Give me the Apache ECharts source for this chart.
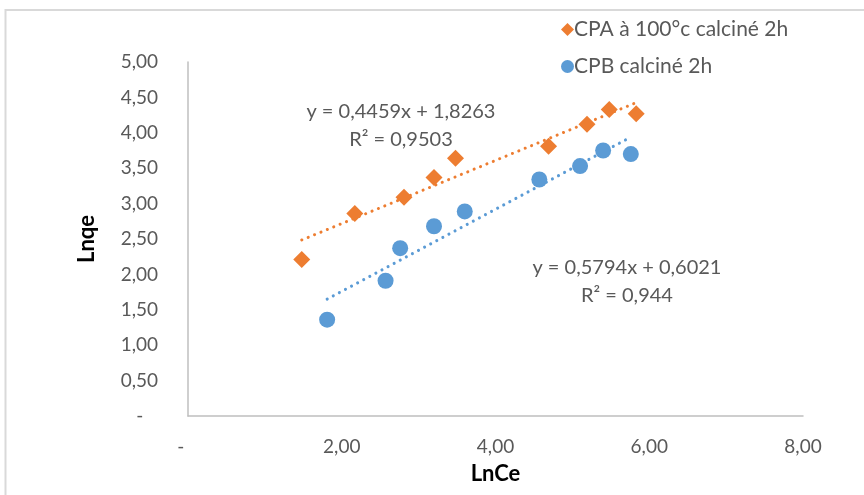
<!DOCTYPE html>
<html>
<head>
<meta charset="utf-8">
<script src="https://cdn.jsdelivr.net/npm/echarts@6/dist/echarts.min.js"></script>
<style>html,body{margin:0;padding:0;background:#fff}#c{width:864px;height:495px}</style>
</head>
<body>
<div id="c"></div>
<script>
// Data
var cpaX = [1.48, 2.17, 2.81, 3.20, 3.48, 4.69, 5.19, 5.48, 5.83];
var cpaY = [2.21, 2.86, 3.09, 3.37, 3.64, 3.81, 4.12, 4.33, 4.27];
var cpbX = [1.81, 2.57, 2.76, 3.20, 3.60, 4.57, 5.10, 5.40, 5.76];
var cpbY = [1.36, 1.91, 2.37, 2.68, 2.89, 3.34, 3.53, 3.75, 3.70];
var cpaTrend = [0.4459, 1.8263]; // slope, intercept
var cpbTrend = [0.5794, 0.6021];
var seriesNames = ['CPA à 100°c calciné 2h', 'CPB calciné 2h'];
var cpaEq = ['y = 0,4459x + 1,8263', 'R² = 0,9503'];
var cpbEq = ['y = 0,5794x + 0,6021', 'R² = 0,944'];
var xTitle = 'LnCe', yTitle = 'Lnqe';

function pts(xs, ys) { return xs.map(function (x, i) { return [x, ys[i]]; }); }
function trend(xs, c) {
  var a = Math.min.apply(null, xs), b = Math.max.apply(null, xs);
  return [[a, c[0] * a + c[1]], [b, c[0] * b + c[1]]];
}
function fmt(v) { return v === 0 ? '-   ' : v.toFixed(2).replace('.', ','); }

var ORANGE = '#ED7D31', BLUE = '#5B9BD5', TXT = '#595959';
var FONT = 'Lato';
var chart = echarts.init(document.getElementById('c'), null, {renderer: 'canvas'});
var dotted = {width: 3, type: [0.1, 6.8], cap: 'round'};

chart.setOption({
  animation: false,
  textStyle: {fontFamily: FONT},
  grid: {left: 188, right: 61, top: 62, bottom: 79, containLabel: false},
  legend: {
    data: [{name: seriesNames[0], icon: 'diamond'}, {name: seriesNames[1], icon: 'circle'}],
    orient: 'vertical', left: 556, top: 14, itemGap: 16, itemWidth: 13, itemHeight: 13,
    textStyle: {fontFamily: FONT, fontSize: 21, color: TXT, padding: [0, 0, 0, -5]}
  },
  xAxis: {
    type: 'value', min: 0, max: 8, interval: 2,
    name: xTitle, nameLocation: 'middle', nameGap: 47,
    nameTextStyle: {fontFamily: FONT, fontWeight: 'bold', fontSize: 22, color: '#000'},
    axisLine: {show: true, onZero: false, lineStyle: {color: '#BFBFBF', width: 1.5}},
    axisTick: {show: false}, splitLine: {show: false},
    axisLabel: {formatter: fmt, fontFamily: FONT, fontSize: 19, color: TXT, margin: 21}
  },
  yAxis: {
    type: 'value', min: 0, max: 5, interval: 0.5,
    name: yTitle, nameLocation: 'middle', nameGap: 90, nameRotate: 90,
    nameTextStyle: {fontFamily: FONT, fontWeight: 'bold', fontSize: 22, color: '#000'},
    axisLine: {show: true, onZero: false, lineStyle: {color: '#BFBFBF', width: 1.5}},
    axisTick: {show: false}, splitLine: {show: false},
    axisLabel: {formatter: fmt, fontFamily: FONT, fontSize: 19, color: TXT, margin: 30}
  },
  graphic: [
    {type: 'polyline', silent: true, shape: {points: [[5.5, 495], [5.5, 10], [864, 10]]},
     style: {stroke: '#D9D9D9', lineWidth: 2, fill: null}}
  ],
  series: [
    {name: seriesNames[0] + ' trend', type: 'line', data: trend(cpaX, cpaTrend), symbol: 'none',
     lineStyle: Object.assign({color: ORANGE}, dotted), z: 1, silent: true,
     markPoint: {silent: true, symbol: 'rect', symbolSize: 0, data: [
       {coord: [2.77, 4.1], label: {show: true, formatter: cpaEq.join('\n'), fontFamily: FONT, fontSize: 20, color: TXT, lineHeight: 28, align: 'center'}}
     ]}},
    {name: seriesNames[1] + ' trend', type: 'line', data: trend(cpbX, cpbTrend), symbol: 'none',
     lineStyle: Object.assign({color: BLUE}, dotted), z: 1, silent: true,
     markPoint: {silent: true, symbol: 'rect', symbolSize: 0, data: [
       {coord: [5.71, 1.9], label: {show: true, formatter: cpbEq.join('\n'), fontFamily: FONT, fontSize: 20, color: TXT, lineHeight: 28, align: 'center'}}
     ]}},
    {name: seriesNames[0], type: 'scatter', data: pts(cpaX, cpaY), symbol: 'diamond', symbolSize: 17,
     itemStyle: {color: ORANGE, opacity: 1}, z: 3},
    {name: seriesNames[1], type: 'scatter', data: pts(cpbX, cpbY), symbol: 'circle', symbolSize: 16,
     itemStyle: {color: BLUE, opacity: 1}, z: 3}
  ]
});
</script>
</body>
</html>
